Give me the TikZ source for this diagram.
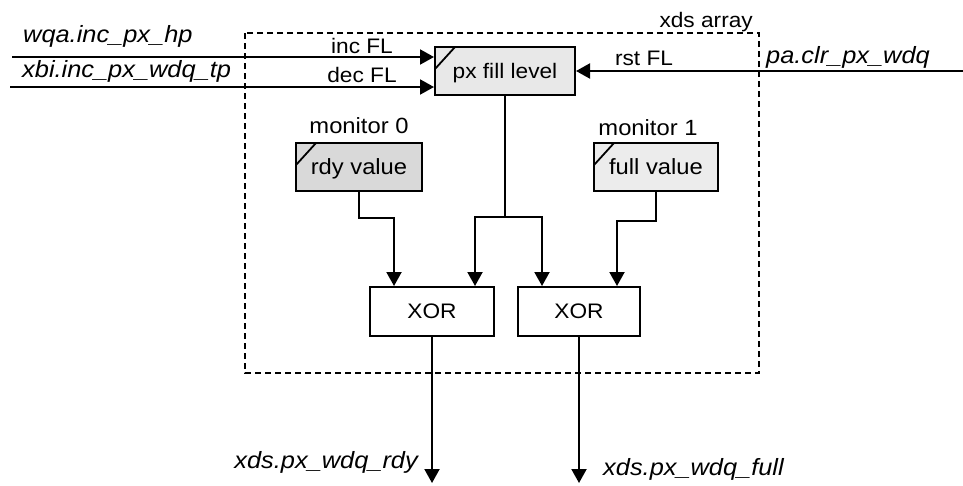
\documentclass[tikz,border=0pt]{standalone}
\usepackage{fontspec}
\setmainfont{Liberation Sans}[FakeStretch=1.08]
\usetikzlibrary{arrows.meta,calc}

\begin{document}
\begin{tikzpicture}[x=1pt,y=-1pt,
  lbl/.style={font=\fontsize{21}{23}\selectfont,inner sep=0pt},
  monlbl/.style={font=\fontsize{22}{24}\selectfont,inner sep=0pt},
  siglbl/.style={font=\fontsize{23.5}{25}\selectfont\itshape,inner sep=0pt},
  blk/.style={draw,line width=2pt,inner sep=0pt},
  valblk/.style={blk,text height=18pt,text depth=4pt,
    path picture={\draw[line width=1.8pt]
      ([yshift=-22pt]path picture bounding box.north west) --
      ([xshift=20pt]path picture bounding box.north west);}},
  gate/.style={blk,fill=white,font=\fontsize{21}{23}\selectfont,
    minimum width=124pt,minimum height=49pt},
  wire/.style={line width=2pt},
  sig/.style={wire,-{Triangle[width=15pt,length=14pt]}}]
\useasboundingbox (0,0) rectangle (963,485);
\draw[line width=1.7pt,dash pattern=on 6pt off 4pt] (245,33) rectangle (759,373);
\node[lbl,anchor=base east] (arrlbl) at (753,27) {xds array};

\node[valblk,fill=gray!18,font=\fontsize{21}{23}\selectfont,
  minimum width=140pt,minimum height=48pt] (fill) at (505,71) {px fill level};
\node[valblk,fill=gray!30,font=\fontsize{22}{24}\selectfont,
  minimum width=126pt,minimum height=48pt] (rdy) at (359,167) {rdy value};
\node[valblk,fill=gray!15,font=\fontsize{22}{24}\selectfont,
  minimum width=124pt,minimum height=48pt] (full) at (656,167) {full value};
\node[monlbl,anchor=base] (mon0) at (359,133) {monitor 0};
\node[monlbl,anchor=base] (mon1) at (648,135) {monitor 1};
\node[gate] (xor0) at (432,311.5) {XOR};
\node[gate,minimum width=122pt] (xor1) at (579,311.5) {XOR};

\coordinate (incin) at (12,57);
\coordinate (decin) at (10,87);
\coordinate (rstin) at (963,71);
\coordinate (split) at (505,217);
\coordinate (rdyout) at (432,483);
\coordinate (fullout) at (579,483);

\node[siglbl,anchor=base west] (wqa) at (23,42) {wqa.inc\_px\_hp};
\node[siglbl,anchor=base west] (xbi) at (22,77) {xbi.inc\_px\_wdq\_tp};
\node[siglbl,anchor=base east] (pa) at (930,63) {pa.clr\_px\_wdq};
\node[lbl,anchor=base] (inc) at (362,53) {inc FL};
\node[lbl,anchor=base] (dec) at (362,82) {dec FL};
\node[lbl,anchor=base] (rst) at (644,65) {rst FL};

\draw[sig] (incin) -- (incin -| fill.west);
\draw[sig] (decin) -- (decin -| fill.west);
\draw[sig] (rstin) -- (fill.east);
\draw[wire] (fill.south) -- (split);
\draw[sig] (split) -| ($(xor0.north)+(43,0)$);
\draw[sig] (split) -| ($(xor1.north)+(-37,0)$);
\draw[sig] (rdy.south) -- ++(0,26) -| ($(xor0.north)+(-38,0)$);
\draw[sig] (full.south) -- ++(0,29) -| ($(xor1.north)+(38,0)$);
\draw[sig] (xor0.south) -- (rdyout);
\draw[sig] (xor1.south) -- (fullout);

\node[siglbl,anchor=base east] (rdylbl) at (418,468) {xds.px\_wdq\_rdy};
\node[siglbl,anchor=base west] (fulllbl) at (603,475) {xds.px\_wdq\_full};
\end{tikzpicture}
\end{document}
